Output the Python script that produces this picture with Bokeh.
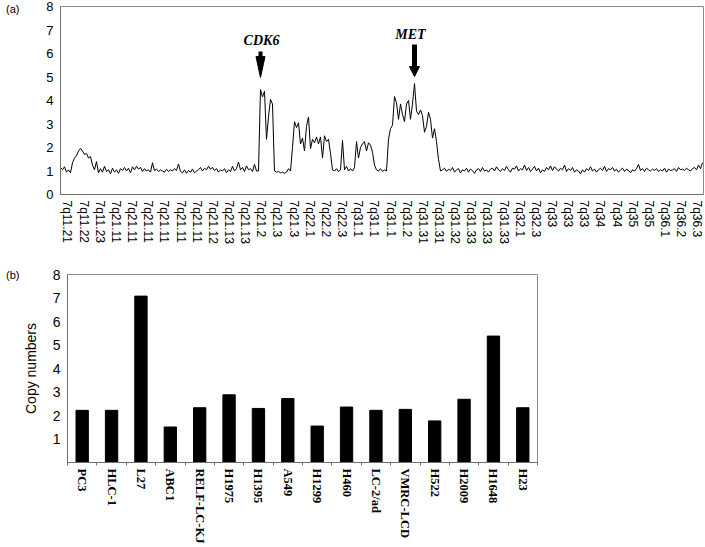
import numpy as np
from bokeh.plotting import figure
from bokeh.layouts import column
from bokeh.models import Range1d, FixedTicker, Label, ColumnDataSource, LinearAxis
from bokeh.embed import file_html
from bokeh.resources import INLINE

# ---------------- data: panel (a) ----------------
cytobands = [
    "7q11.21", "7q11.22", "7q11.23", "7q21.11", "7q21.11", "7q21.11", "7q21.11",
    "7q21.11", "7q21.11", "7q21.12", "7q21.13", "7q21.13", "7q21.2", "7q21.3",
    "7q21.3", "7q22.1", "7q22.2", "7q22.3", "7q31.1", "7q31.1", "7q31.1",
    "7q31.2", "7q31.31", "7q31.31", "7q31.32", "7q31.33", "7q31.33", "7q31.33",
    "7q32.1", "7q32.3", "7q33", "7q33", "7q33", "7q34", "7q34", "7q35", "7q35",
    "7q36.1", "7q36.2", "7q36.3",
]

copy_7q_head = [
    1.15, 1.05, 1.18, 0.95, 1.05, 0.92, 1.35, 1.55, 1.65, 1.85,
    1.96, 1.85, 1.70, 1.75, 1.55, 1.62, 1.25, 1.05, 1.40, 0.92,
    1.10, 0.95, 1.20, 0.98, 1.05, 0.88, 1.12, 0.95, 1.05, 0.90,
    1.10, 1.02, 1.15, 1.00, 1.12, 0.92, 1.18, 1.05, 1.20, 1.08,
    1.15, 0.98, 1.10, 1.00, 1.05, 0.95, 1.35, 1.02, 1.08, 0.98,
    1.05, 1.00, 0.95, 1.08, 0.98, 1.05, 1.00, 1.10, 1.02, 1.30,
    0.98, 0.92, 1.05, 0.90, 1.02, 0.95, 1.08, 0.92, 1.00, 1.05,
    1.15, 1.00, 1.12, 1.05, 1.20, 1.08, 1.15, 1.02, 1.10, 0.95,
    1.05, 1.00, 1.10, 0.92, 1.05, 0.98, 1.20, 1.00, 1.10, 1.38,
    1.05, 1.15, 0.98, 1.22, 1.05, 1.10, 0.98, 1.28, 1.00, 1.00,
]
copy_7q_amp = [
    4.47, 4.15, 4.40, 2.35, 3.30, 4.05, 3.85, 1.00, 0.95, 0.98,
    0.92, 0.95, 0.90, 0.95, 1.10, 1.00, 2.00, 3.10, 2.85, 3.05,
    2.15, 2.40, 1.85, 2.90, 3.30, 1.95, 2.35, 2.20, 2.45, 2.15,
    2.45, 1.55, 2.50, 2.25, 2.35, 1.75, 1.05, 1.00, 1.10, 0.98,
    1.05, 2.30, 1.05, 1.20, 1.00, 1.10, 1.00, 1.15, 2.25, 1.55,
    2.00, 2.15, 2.25, 1.85, 2.20, 2.10, 1.80, 1.25, 1.05, 1.00,
    1.10, 0.98, 1.05, 1.00, 2.35, 2.80, 2.95, 4.17, 3.90, 3.20,
    3.85, 3.40, 3.10, 3.85, 4.00, 3.20, 3.85, 4.72, 3.55, 3.40,
    3.60, 3.35, 2.65, 2.90, 3.50, 3.20, 2.40, 2.80, 2.25, 1.50,
    1.00,
]
copy_7q_tail = [
    1.05, 1.12, 0.98, 1.08, 1.02, 1.15, 0.95, 1.05, 1.10, 0.92,
    1.05, 1.00, 1.12, 0.95, 1.08, 1.02, 0.90, 1.05, 1.10, 0.98,
    1.15, 1.00, 1.05, 0.95, 1.08, 1.12, 1.00, 1.18, 1.05, 0.98,
    1.10, 1.02, 1.20, 1.05, 0.95, 1.12, 1.08, 1.22, 1.00, 1.10,
    1.05, 1.25, 1.02, 1.15, 0.98, 1.08, 1.20, 1.00, 1.12, 0.92,
    1.05, 0.98, 1.15, 1.05, 1.22, 1.02, 1.18, 1.08, 1.00, 1.12,
    1.05, 1.25, 0.98, 1.10, 1.02, 1.15, 0.95, 1.05, 1.00, 0.88,
    1.05, 0.95, 1.10, 1.02, 1.18, 1.00, 1.08, 0.95, 1.05, 1.12,
    1.02, 1.20, 0.98, 1.10, 1.05, 1.15, 1.00, 1.08, 0.95, 1.05,
    1.12, 0.98, 1.08, 1.02, 0.92, 1.05, 1.00, 1.10, 1.28, 1.02,
    1.10, 0.98, 1.12, 1.05, 1.00, 1.08, 1.02, 1.10, 0.98, 1.05,
    1.00, 1.12, 0.95, 1.08, 1.02, 1.05, 1.10, 0.98, 1.15, 1.05,
    1.08, 1.02, 1.12, 1.05, 1.00, 1.10, 1.15, 1.05, 1.25, 1.10, 1.35,
]
copy_7q = copy_7q_head + copy_7q_amp + copy_7q_tail

# ---------------- data: panel (b) ----------------
cell_lines = ["PC3", "HLC-1", "L27", "ABC1", "RELF-LC-KJ", "H1975", "H1395",
              "A549", "H1299", "H460", "LC-2/ad", "VMRC-LCD", "H522", "H2009",
              "H1648", "H23"]
met_copy = [2.22, 2.22, 7.08, 1.51, 2.33, 2.88, 2.30, 2.72, 1.55, 2.36,
            2.22, 2.26, 1.77, 2.69, 5.38, 2.33]

SANS = "Liberation Sans"
SERIF = "Liberation Serif"
AXIS_GRAY = "#707070"


def panel_tag(p, text, y, standoff):
    """Panel letter drawn as the single label of an extra outer left axis."""
    ax = LinearAxis(ticker=FixedTicker(ticks=[y]),
                    major_label_overrides={y: text})
    ax.axis_line_color = None
    ax.major_tick_line_color = None
    ax.minor_tick_line_color = None
    ax.major_tick_out = 0
    ax.major_tick_in = 0
    ax.major_label_standoff = standoff
    ax.major_label_text_font = SANS
    ax.major_label_text_font_size = "11px"
    ax.major_label_text_color = "black"
    p.add_layout(ax, "left")


# ================= panel (a) =================
samples_per_band = 8.075
band_offset = 3.5
n = len(copy_7q)
xa = (np.arange(n) - band_offset) / samples_per_band
ya = np.array(copy_7q)

W = 705
A_LEFT, A_RIGHT, A_TOP, A_BOTTOM, A_H = 60, 2, 6, 72, 266
xr1 = (-0.433, 39.38)
p1 = figure(width=W, height=A_H, output_backend="svg", toolbar_location=None,
            x_range=Range1d(*xr1), y_range=Range1d(0, 8),
            min_border_left=A_LEFT, min_border_right=A_RIGHT,
            min_border_top=A_TOP, min_border_bottom=A_BOTTOM)
p1.frame_align = False
p1.line(xa, ya, line_color="black", line_width=1)

p1.xgrid.visible = False
p1.ygrid.visible = False
p1.outline_line_color = "#8c8c8c"
p1.outline_line_width = 1

p1.yaxis.ticker = FixedTicker(ticks=list(range(0, 9)))
p1.xaxis.ticker = FixedTicker(ticks=list(range(len(cytobands))))
p1.xaxis.major_label_overrides = {i: lab for i, lab in enumerate(cytobands)}
p1.xaxis.major_label_orientation = "vertical"
for ax in (p1.xaxis, p1.yaxis):
    ax.axis_line_color = AXIS_GRAY
    ax.major_tick_line_color = None
    ax.minor_tick_line_color = None
    ax.major_tick_out = 0
    ax.major_tick_in = 0
    ax.major_label_text_font = SANS
    ax.major_label_text_color = "black"
p1.yaxis.major_label_text_font_size = "13px"
p1.yaxis.major_label_standoff = 7
p1.xaxis.major_label_text_font_size = "12px"
p1.xaxis.major_label_standoff = 6
panel_tag(p1, "(a)", 7.875, 24)

frame_w1 = W - A_LEFT - A_RIGHT
frame_h1 = A_H - A_TOP - A_BOTTOM
x_px = frame_w1 / (xr1[1] - xr1[0])   # pixels per band unit
y_px = frame_h1 / 8.0                   # pixels per copy-number unit


def draw_arrow(i_peak, tip_gap_px, head_len_px, head_w_px, shaft_top_px, shaft_w):
    xc = xa[i_peak]
    tip = ya[i_peak] + tip_gap_px / y_px
    head_top = tip + head_len_px / y_px
    hw = head_w_px / 2 / x_px
    p1.patch([xc - hw, xc + hw, xc], [head_top, head_top, tip],
             fill_color="black", line_color="black", line_width=1)
    p1.segment(xc, head_top - 0.1, xc, head_top + shaft_top_px / y_px,
               line_color="black", line_width=shaft_w)
    return xc, head_top + shaft_top_px / y_px


i_cdk6 = len(copy_7q_head) + int(np.argmax(copy_7q_amp[:10]))
i_met = len(copy_7q_head) + 60 + int(np.argmax(copy_7q_amp[60:]))
xc1, top1 = draw_arrow(i_cdk6, 12, 21, 9, 5, 4)
xc2, top2 = draw_arrow(i_met, 7, 10, 10, 22, 5)

p1.add_layout(Label(x=xc1, y=top1 + 11 / y_px, text="CDK6", text_font=SERIF,
                    text_font_style="bold italic", text_font_size="14px",
                    text_color="black",
                    text_align="center", text_baseline="middle", x_offset=1))
p1.add_layout(Label(x=xc2, y=top2 + 10 / y_px, text="MET", text_font=SERIF,
                    text_font_style="bold italic", text_font_size="14px",
                    text_color="black",
                    text_align="center", text_baseline="middle", x_offset=-4))

# ================= panel (b) =================
B_LEFT, B_RIGHT, B_TOP, B_BOTTOM, B_H = 67, 168, 8, 85, 281
src = ColumnDataSource(dict(x=list(range(len(cell_lines))), top=met_copy))
xr2 = (-0.5, len(cell_lines) - 0.5)
p2 = figure(width=W, height=B_H, output_backend="svg", toolbar_location=None,
            x_range=Range1d(*xr2), y_range=Range1d(0, 8),
            min_border_left=B_LEFT, min_border_right=B_RIGHT,
            min_border_top=B_TOP, min_border_bottom=B_BOTTOM)
p2.frame_align = False
p2.vbar(x="x", top="top", width=0.42, bottom=0, source=src,
        fill_color="black", line_color="black")
p2.xgrid.visible = False
p2.ygrid.visible = False
p2.outline_line_color = "#8c8c8c"

p2.xaxis.ticker = FixedTicker(ticks=list(range(len(cell_lines))),
                              minor_ticks=[k + 0.5 for k in range(-1, len(cell_lines))])
p2.xaxis.major_label_overrides = {i: lab for i, lab in enumerate(cell_lines)}
p2.xaxis.major_label_orientation = "vertical"
p2.xaxis.major_label_text_font = SERIF
p2.xaxis.major_label_text_font_style = "bold"
p2.xaxis.major_label_text_font_size = "12.5px"
p2.xaxis.major_label_standoff = 3
p2.xaxis.major_tick_line_color = None
p2.xaxis.major_tick_out = 0
p2.xaxis.major_tick_in = 0
p2.xaxis.minor_tick_line_color = AXIS_GRAY
p2.xaxis.minor_tick_out = 3
p2.xaxis.minor_tick_in = 0

p2.yaxis.ticker = FixedTicker(ticks=list(range(1, 9)))
p2.yaxis.major_tick_line_color = None
p2.yaxis.minor_tick_line_color = None
p2.yaxis.major_tick_out = 0
p2.yaxis.major_tick_in = 0
p2.yaxis.major_label_text_font = SANS
p2.yaxis.major_label_text_font_size = "14px"
p2.yaxis.major_label_standoff = 7
p2.yaxis.axis_label = "Copy numbers"
p2.yaxis.axis_label_text_font = SANS
p2.yaxis.axis_label_text_font_style = "normal"
p2.yaxis.axis_label_text_font_size = "14px"
p2.yaxis.axis_label_text_color = "black"
p2.yaxis.axis_label_standoff = 11
for ax in (p2.xaxis, p2.yaxis):
    ax.axis_line_color = AXIS_GRAY
    ax.major_label_text_color = "black"
panel_tag(p2, "(b)", 8, 0)

layout = column(p1, p2)
open("out.html", "w").write(file_html(layout, INLINE))
